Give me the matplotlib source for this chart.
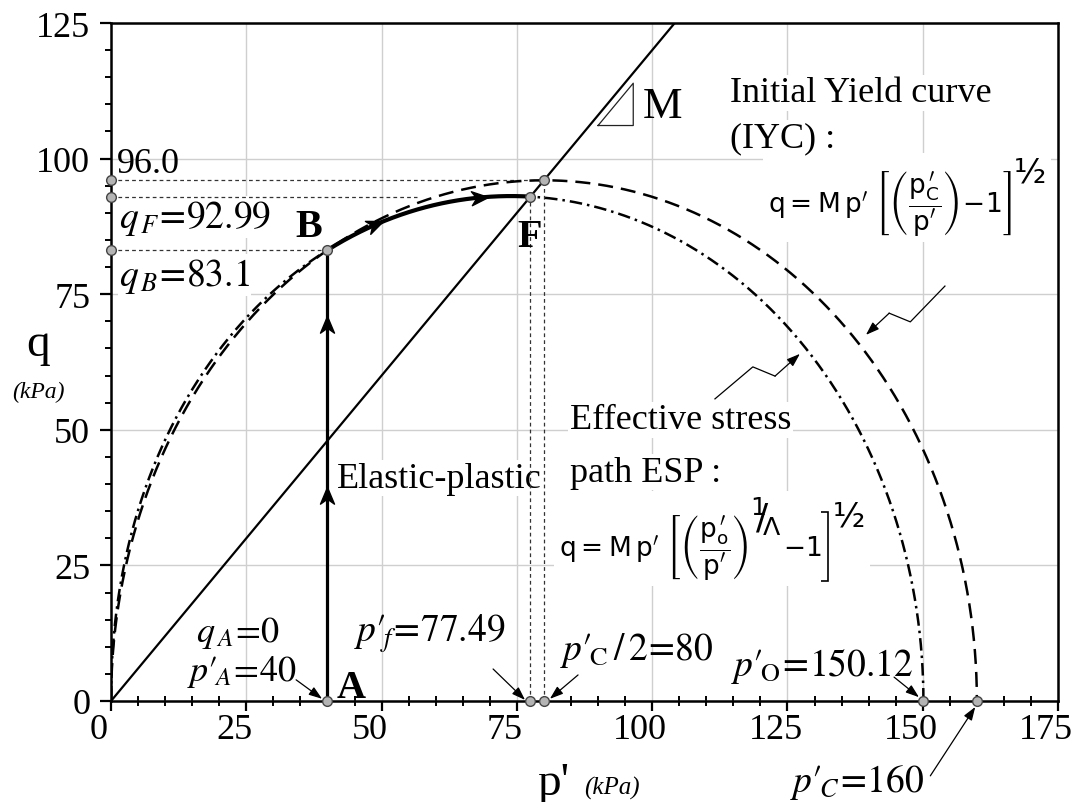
import numpy as np
import matplotlib
matplotlib.use("Agg")
import matplotlib.pyplot as plt
from matplotlib.path import Path
from matplotlib.markers import MarkerStyle
from matplotlib.lines import Line2D
from matplotlib.patches import Rectangle
from matplotlib.transforms import ScaledTranslation, IdentityTransform

plt.rcParams['font.family'] = ['Liberation Serif', 'DejaVu Serif']

# ---- model parameters and key states ----
M_SLOPE = 1.2        # critical state slope M
PC = 160.0           # p'_C of the initial yield curve
PO = 150.12          # p'_O of the effective stress path
LAMBDA = 0.954       # plastic volumetric ratio
P_A, Q_A = 40.0, 0.0
Q_B = 83.1
P_F, Q_F = 77.49, 92.99
Q_PEAK = 96.0

x_ticks = [0, 25, 50, 75, 100, 125, 150, 175]
y_ticks = [0, 25, 50, 75, 100, 125]

fig = plt.figure(figsize=(10.77, 8.03), dpi=100)
ax = fig.add_axes([0.1031, 0.1258, 0.8793, 0.8443])
ax.set_xlim(0, 175)
ax.set_ylim(0, 125)
PIX = IdentityTransform()


def iyc(p):
    return M_SLOPE * p * np.sqrt(np.clip(PC / np.maximum(p, 1e-12) - 1, 0, None))


def esp(p):
    return M_SLOPE * p * np.sqrt(np.clip((PO / np.maximum(p, 1e-12)) ** (1 / LAMBDA) - 1, 0, None))


# parameter dense at both ends so the steep parts stay smooth
t = np.linspace(0, np.pi / 2, 1500)
p_iyc = PC * np.sin(t) ** 2
p_esp = PO * np.sin(t) ** 2
ax.plot(p_iyc, iyc(p_iyc), color='black', lw=1.8, linestyle=(0, (6, 3.2)), zorder=3)
ax.plot(p_esp, esp(p_esp), color='black', lw=1.8, linestyle=(0, (5, 2, 1, 2)), zorder=3)

# critical state line
p_csl = np.array([0.0, 125.0 / M_SLOPE])
ax.plot(p_csl, M_SLOPE * p_csl, color='black', lw=1.6, zorder=3)

# stress path A -> B -> F
ax.plot([P_A, P_A], [Q_A, Q_B], color='black', lw=2.3, zorder=4)
p_bf = np.linspace(P_A, P_F, 200)
ax.plot(p_bf, esp(p_bf), color='black', lw=3.0, zorder=4, solid_capstyle='butt')

# slope triangle for M
ax.plot([90.0, 96.5, 96.5, 90.0], [106.1, 106.1, 106.1 + 6.5 * M_SLOPE, 106.1],
        color='#222222', lw=0.9, zorder=3)

# reference dotted lines
dot = dict(color='#333333', lw=0.9, linestyle=(0, (3, 2.5)), zorder=2.5)
ax.plot([0, PC / 2], [Q_PEAK, Q_PEAK], **dot)
ax.plot([0, 56.6], [Q_F, Q_F], **dot)
ax.plot([0, P_A], [Q_B, Q_B], **dot)
ax.plot([P_F, P_F], [0, Q_F], **dot)
ax.plot([PC / 2, PC / 2], [0, Q_PEAK], **dot)

# state points
pts_x = [0, 0, 0, P_A, P_F, PC / 2, P_A, P_F, PC / 2, PO, PC]
pts_y = [Q_PEAK, Q_F, Q_B, Q_B, Q_F, Q_PEAK, 0, 0, 0, 0, 0]
ax.plot(pts_x, pts_y, 'o', ms=7, mfc='#b4b4b4', mec='#444444', mew=1.0,
        zorder=6, clip_on=False)

# direction arrowheads along the path
fig.canvas.draw()
renderer = fig.canvas.get_renderer()
head = Path([(0, 0), (-1, 0.42), (-0.7, 0), (-1, -0.42), (0, 0)],
            [Path.MOVETO, Path.LINETO, Path.LINETO, Path.LINETO, Path.CLOSEPOLY])


def arrow_head(x, y, x0, y0):
    a = ax.transData.transform([x0, y0])
    b = ax.transData.transform([x, y])
    ang = np.degrees(np.arctan2(b[1] - a[1], b[0] - a[0]))
    ax.plot([x], [y], marker=MarkerStyle(head).rotated(deg=ang), ms=24,
            color='black', mec='black', zorder=7)


for qv in (71.0, 39.5):
    arrow_head(P_A, qv, P_A, qv - 1)
for pv in (50.3, 69.7):
    arrow_head(pv, esp(pv), pv - 0.5, esp(pv - 0.5))

# axes styling
ax.set_axisbelow(True)
ax.grid(True, which='major', color='#cfcfcf', lw=1.0)
for s in ax.spines.values():
    s.set_linewidth(1.8)
ax.set_xticks(x_ticks)
ax.set_yticks(y_ticks)
ax.set_xticks(np.arange(0, 176, 5), minor=True)
ax.set_yticks(np.arange(0, 126, 5), minor=True)
ax.tick_params(axis='x', which='major', direction='out', length=7, width=1.6,
               labelsize=26, pad=2)
ax.tick_params(axis='x', which='minor', direction='inout', length=7, width=1.4)
ax.tick_params(axis='y', which='major', direction='out', length=8, width=1.6,
               labelsize=26, pad=7)
ax.tick_params(axis='y', which='minor', direction='out', length=4.5, width=1.4)
ax.set_xticklabels([str(v) for v in x_ticks])
ax.set_yticklabels([str(v) for v in y_ticks])
shift = ScaledTranslation(-12 / 100, 0, fig.dpi_scale_trans)
for lab in ax.get_xticklabels():
    lab.set_transform(lab.get_transform() + shift)

# axis titles
ax.text(0.467, -0.137, "p'", transform=ax.transAxes, fontsize=34,
        ha='center', va='baseline')
ax.text(0.5, -0.137, "(kPa)", transform=ax.transAxes, fontsize=18,
        style='italic', ha='left', va='baseline')
ax.text(-0.077, 0.527, "q", transform=ax.transAxes, fontsize=34,
        ha='center', va='center')
ax.text(-0.077, 0.456, "(kPa)", transform=ax.transAxes, fontsize=17,
        style='italic', ha='center', va='center')

# annotations
wbox = dict(facecolor='white', edgecolor='none', pad=1.0)
ax.text(1.1, 97.5, "96.0", fontsize=26, va='baseline', zorder=1.5)
ax.text(1.5, 87.4, r"$q_{\,F}\!=\!92.99$", fontsize=27, va='baseline',
        math_fontfamily='stix', bbox=wbox, zorder=1.5)
ax.text(1.5, 76.7, r"$q_{\,B}\!=\!83.1$", fontsize=27, va='baseline',
        math_fontfamily='stix', bbox=wbox, zorder=1.5)
ax.text(34.0, 85.7, "B", fontsize=29, fontweight='bold', va='baseline', zorder=5)
ax.text(77.3, 83.9, "F", fontsize=29, fontweight='bold', ha='center',
        va='baseline', zorder=5)
ax.text(41.6, 0.8, "A", fontsize=29, fontweight='bold', va='baseline', zorder=5)
ax.text(98.3, 107.7, "M", fontsize=32, va='baseline', zorder=5)

ax.text(114.4, 110.6, "Initial Yield curve", fontsize=26, va='baseline',
        bbox=wbox, zorder=1.5)
ax.text(114.4, 102.3, "(IYC) :", fontsize=26, va='baseline',
        bbox=wbox, zorder=1.5)
ax.text(84.8, 50.3, "Effective stress", fontsize=26, va='baseline',
        bbox=wbox, zorder=1.5)
ax.text(84.8, 40.6, "path ESP :", fontsize=26, va='baseline',
        bbox=wbox, zorder=1.5)
ax.text(41.8, 39.5, "Elastic-plastic", fontsize=26, va='baseline',
        bbox=wbox, zorder=1.5)

ax.text(15.7, 11.0, r"$q_{\,A}\!=\!0$", fontsize=26, va='baseline',
        math_fontfamily='stix', zorder=1.5)
ax.text(14.0, 3.9, r"$p\prime_{\!A}\!=\!40$", fontsize=26, va='baseline',
        math_fontfamily='stix', zorder=1.5)
ax.text(44.9, 11.1, r"$p\prime_{\!f}\!=\!77.49$", fontsize=27, va='baseline',
        math_fontfamily='stix', zorder=1.5)
ax.text(83.0, 7.7, r"$p\prime_{\!\mathrm{C}}\,/\,2\!=\!80$", fontsize=27,
        va='baseline', math_fontfamily='stix', zorder=1.5)
ax.text(114.6, 4.8, r"$p\prime_{\!\mathrm{O}}\!=\!150.12$", fontsize=27,
        va='baseline', math_fontfamily='stix', zorder=1.5)
ax.text(125.5, -16.6, r"$p\prime_{\!C}\!=\!160$", fontsize=27,
        va='baseline', math_fontfamily='stix', zorder=1.5, clip_on=False)

# ---- the two model formulas ----
fkw = dict(fontsize=19, va='baseline', math_fontfamily='dejavusans', zorder=2)


def white_patch(x0, y0, x1, y1):
    ax.add_artist(Rectangle((x0, y0), x1 - x0, y1 - y0, transform=PIX,
                            facecolor='white', edgecolor='none', zorder=1.4))


# yield curve: q = M p' [ (p_C'/p') - 1 ]^(1/2)
f_iyc = ax.text(121.4, 90.2,
                r"$\mathrm{q = M\,p'}\ \left[\left(\dfrac{\mathrm{p_C^{\,\prime}}}{\mathrm{p'}}\right)\!-\!1\right]$",
                **fkw)
bb = f_iyc.get_window_extent(renderer)
h_iyc = ax.text(bb.x1 + 2, bb.y1 - 4, "½", transform=PIX, fontsize=24,
                family='DejaVu Sans', ha='left', va='center', zorder=2)
bh = h_iyc.get_window_extent(renderer)
white_patch(bb.x0 - 5, bb.y0 - 5, bh.x1 + 5, bh.y1 + 3)

# stress path: q = M p' [ (p_o'/p')^(1/Lambda) - 1 ]^(1/2)
f_esp = ax.text(82.8, 26.9,
                r"$\mathrm{q = M\,p'}\ \left[\left(\dfrac{\mathrm{p_o^{\,\prime}}}{\mathrm{p'}}\right)\right.$",
                **fkw)
b1 = f_esp.get_window_extent(renderer)
base_y = ax.transData.transform((82.8, 26.9))[1]
e_esp = ax.text(b1.x1 + 1, b1.y1 - 4, r"${}^{1}\!\!/\!{}_{\Lambda}$", transform=PIX,
                fontsize=26, math_fontfamily='dejavusans', ha='left', va='center',
                zorder=2)
be = e_esp.get_window_extent(renderer)
m_esp = ax.text(be.x1 + 2, base_y, r"$\mathrm{-1}$", transform=PIX, **fkw)
bm = m_esp.get_window_extent(renderer)
xb = bm.x1 + 7
ax.add_artist(Line2D([xb - 7, xb, xb, xb - 7], [b1.y1, b1.y1, b1.y0, b1.y0],
                     transform=PIX, color='black', lw=1.2, zorder=2,
                     solid_joinstyle='miter', solid_capstyle='butt'))
h_esp = ax.text(xb + 4, b1.y1 - 4, "½", transform=PIX, fontsize=24,
                family='DejaVu Sans', ha='left', va='center', zorder=2)
bh2 = h_esp.get_window_extent(renderer)
white_patch(b1.x0 - 5, b1.y0 - 5, bh2.x1 + 5, max(bh2.y1, be.y1) + 3)

# pointer arrows
arr = dict(arrowstyle='-|>,head_length=0.8,head_width=0.28', color='black',
           lw=0.9, shrinkA=0, shrinkB=0)
ax.annotate("", xy=(39.0, 0.4), xytext=(34.2, 3.9), arrowprops=arr)
ax.annotate("", xy=(76.5, 0.2), xytext=(70.6, 5.9), arrowprops=arr)
ax.annotate("", xy=(81.1, 0.4), xytext=(86.3, 4.8), arrowprops=arr)
ax.annotate("", xy=(149.3, 0.7), xytext=(144.7, 4.4), arrowprops=arr)
ax.annotate("", xy=(159.7, -1.1), xytext=(151.4, -13.8), arrowprops=arr,
            annotation_clip=False)

# zigzag leaders to the curves
ax.plot([111.6, 118.6, 122.7], [55.7, 61.6, 59.9], color='black', lw=0.9, zorder=3)
ax.annotate("", xy=(127.3, 64.0), xytext=(122.7, 59.9), arrowprops=arr)
ax.plot([154.1, 147.7, 143.8], [76.5, 69.9, 71.5], color='black', lw=0.9, zorder=3)
ax.annotate("", xy=(139.5, 67.5), xytext=(143.8, 71.5), arrowprops=arr)

fig.savefig("out.png", dpi=100)
